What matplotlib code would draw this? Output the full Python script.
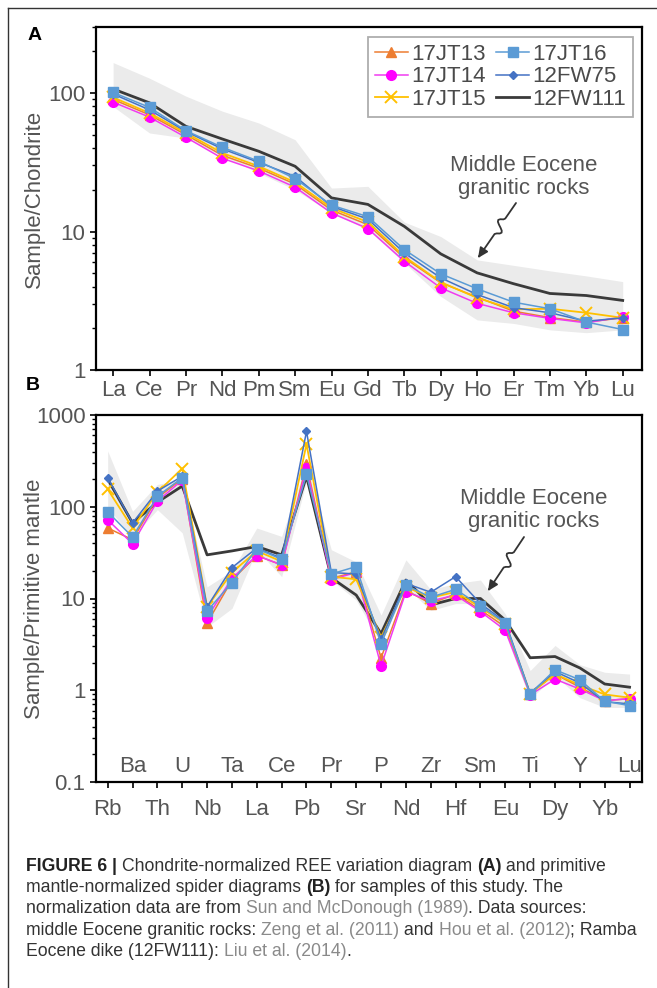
import numpy as np
import matplotlib
matplotlib.use("Agg")
import matplotlib.pyplot as plt
from matplotlib.path import Path
from matplotlib.patches import FancyArrowPatch
from matplotlib.lines import Line2D
import matplotlib.transforms as mtransforms

# ---------------- data ----------------
ree = ["La", "Ce", "Pr", "Nd", "Pm", "Sm", "Eu", "Gd", "Tb", "Dy", "Ho", "Er", "Tm", "Yb", "Lu"]
ree_17JT13 = [90, 69.6, 50, 35.5, 28.7, 22, 14.3, 11.2, 6.45, 4.27, 3.36, 2.66, 2.39, 2.22, 2.38]
ree_17JT14 = [86, 67, 47.9, 33.8, 27.4, 20.9, 13.6, 10.5, 6.1, 3.92, 3.03, 2.59, 2.36, 2.19, 2.42]
ree_17JT15 = [93, 71.7, 51.5, 36.9, 29.6, 22.7, 14.8, 11.7, 6.6, 4.31, 3.32, 2.74, 2.77, 2.59, 2.38]
ree_17JT16 = [101, 78.8, 53.5, 40.6, 32.2, 24.1, 15.5, 12.8, 7.4, 4.95, 3.86, 3.09, 2.77, 2.22, 1.96]
ree_12FW75 = [98.5, 75.6, 52.8, 39.5, 31.6, 25, 15.2, 12.3, 7.0, 4.63, 3.51, 2.82, 2.59, 2.25, 2.38]
ree_12FW111 = [107, 85, 57.5, 46.6, 38, 29.6, 17.5, 15.7, 10.9, 6.9, 5.03, 4.2, 3.57, 3.45, 3.18]
ree_env_upper = [166, 128, 95, 74, 60.8, 46, 20.6, 21.2, 11.7, 9.2, 6.24, 5.7, 5.2, 4.78, 4.35]
ree_env_lower = [80, 51.5, 47.3, 35, 26.5, 20, 13.6, 10.3, 5.94, 3.4, 2.3, 2.17, 1.95, 1.86, 1.95]

spider = ["Rb", "Ba", "Th", "U", "Nb", "Ta", "La", "Ce", "Pb", "Pr", "Sr", "P", "Nd", "Zr", "Hf",
          "Sm", "Eu", "Ti", "Dy", "Y", "Yb", "Lu"]
sp_17JT13 = [58.6, 43.7, 125, 202, 5.4, 15.9, 29.4, 23.2, 290, 16.6, 19.5, 2.25, 12.3, 8.8, 11.2, 7.5, 4.9, 0.92, 1.5, 1.08, 0.77, 0.81]
sp_17JT14 = [72, 39.5, 115, 195, 6.2, 16.6, 29.4, 23.2, 267, 16.1, 19.2, 1.84, 11.8, 9.4, 10.9, 7.2, 4.5, 0.89, 1.32, 1.03, 0.77, 0.81]
sp_17JT15 = [155, 58.7, 144, 261, 8.1, 19.2, 33, 25.3, 481, 17.3, 16.2, 3.8, 13.4, 10.2, 11.8, 8.0, 5.3, 0.92, 1.5, 1.14, 0.9, 0.83]
sp_17JT16 = [88, 46.8, 130, 207, 7.3, 14.9, 34.8, 26.8, 225, 18.5, 22.3, 3.2, 14, 10.3, 12.6, 8.3, 5.4, 0.91, 1.67, 1.3, 0.76, 0.68]
sp_12FW75 = [207, 66.5, 148, 215, 8.1, 21.7, 35.5, 27.5, 662, 19.2, 18.5, 3.6, 14.6, 11.7, 17.3, 8.8, 5.55, 0.93, 1.6, 1.2, 0.75, 0.71]
sp_12FW111 = [200, 66.5, 112, 168, 29.9, 33, 36.9, 29.9, 215, 16.8, 10.9, 4.14, 15.9, 8.5, 10, 10, 5.8, 2.26, 2.33, 1.75, 1.17, 1.08]
sp_env_upper = [406, 89, 175, 200, 13.4, 20, 58.6, 47.5, 300, 34, 25, 6.6, 26.4, 12.5, 14.6, 15.9, 6.8, 1.64, 3.08, 1.9, 1.57, 1.5]
sp_env_lower = [97, 47, 93, 52, 4.9, 7.8, 33.9, 17.3, 190, 15.9, 9.6, 3.2, 13.4, 7.4, 8.8, 8.8, 4.1, 0.8, 1.44, 0.83, 0.65, 0.65]

series_names = ["17JT13", "17JT14", "17JT15", "17JT16", "12FW75", "12FW111"]

# ---------------- style ----------------
W, H = 657, 988
plt.rcParams["font.family"] = ["Liberation Sans", "DejaVu Sans"]
TXT = "#555555"
FS = 16

styles = {
    "17JT13": dict(color="#ed7d31", marker="^", ms=7, lw=1.1, mfc="#ed7d31", mec="#ed7d31"),
    "17JT14": dict(color="#f03cf0", marker="o", ms=7, lw=1.1, mfc="#ff00ff", mec="#ff00ff"),
    "17JT15": dict(color="#ffc000", marker="x", ms=8, lw=1.3, mew=1.4, mfc="#ffc000", mec="#ffc000"),
    "17JT16": dict(color="#5b9bd5", marker="s", ms=6.5, lw=1.1, mfc="#5b9bd5", mec="#5b9bd5"),
    "12FW75": dict(color="#4472c4", marker="D", ms=4.2, lw=1.1, mfc="#4472c4", mec="#4472c4"),
    "12FW111": dict(color="#3a3a3a", marker=None, lw=2.0),
}
draw_order = ["17JT13", "17JT14", "17JT15", "12FW75", "17JT16"]

fig = plt.figure(figsize=(W / 100, H / 100), dpi=100)


def px_axes(left, top, right, bottom):
    return fig.add_axes([left / W, 1 - bottom / H, (right - left) / W, (bottom - top) / H])


def style_axis(ax):
    for s in ax.spines.values():
        s.set_linewidth(1.6)
        s.set_color("black")
    ax.tick_params(axis="y", which="major", direction="out", length=4.5, width=1.2,
                   labelsize=FS, labelcolor=TXT, pad=3)
    ax.tick_params(axis="y", which="minor", direction="out", length=3, width=1.0)
    ax.tick_params(axis="x", which="both", direction="out", length=4.5, width=1.2,
                   labelsize=FS, labelcolor=TXT)
    ax.tick_params(top=False, right=False)


# ---------------- panel A ----------------
axA = px_axes(96, 27, 642, 370)
xa = np.arange(len(ree))
axA.fill_between(xa, ree_env_lower, ree_env_upper, color="#ebebeb", lw=0, zorder=1)
axA.plot(xa, ree_12FW111, zorder=3, **{k: v for k, v in styles["12FW111"].items() if k != "marker"})
ree_data = {"17JT13": ree_17JT13, "17JT14": ree_17JT14, "17JT15": ree_17JT15,
            "17JT16": ree_17JT16, "12FW75": ree_12FW75}
for name in draw_order:
    axA.plot(xa, ree_data[name], zorder=4, **styles[name])
axA.set_yscale("log")
axA.set_ylim(1, 300)
axA.set_xlim(-0.47, len(ree) - 0.47)
axA.set_xticks(xa)
axA.set_xticklabels(ree)
axA.set_yticks([1, 10, 100])
axA.set_yticklabels(["1", "10", "100"])
style_axis(axA)
axA.tick_params(axis="x", pad=3)
axA.set_ylabel("Sample/Chondrite", fontsize=FS, color=TXT)
axA.yaxis.set_label_coords((45 - 96) / 546, 0.5)

handles = []
for name in series_names:
    st = dict(styles[name])
    handles.append(Line2D([], [], label=name, **st))
leg = axA.legend(handles, series_names, ncol=2,
                 loc="upper right", bbox_to_anchor=((633 - 96) / 546, 1 - (37 - 27) / 343),
                 fontsize=FS, frameon=True, fancybox=False, edgecolor="#9a9a9a",
                 handlelength=1.5, handletextpad=0.15, columnspacing=0.45,
                 labelspacing=0.08, borderpad=0.3, borderaxespad=0, markerscale=1.0)
leg.get_frame().set_linewidth(1.3)
for t in leg.get_texts():
    t.set_color("#4a4a4a")

axA.text((524 - 96) / 546, 1 - (177 - 27) / 343, "Middle Eocene\ngranitic rocks",
         transform=axA.transAxes, ha="center", va="center", fontsize=FS,
         color="#555555", linespacing=1.12)

# ---------------- panel B ----------------
axB = px_axes(96, 415, 642, 782)
xb = np.arange(len(spider))
axB.fill_between(xb, sp_env_lower, sp_env_upper, color="#ebebeb", lw=0, zorder=1)
axB.plot(xb, sp_12FW111, zorder=3, **{k: v for k, v in styles["12FW111"].items() if k != "marker"})
sp_data = {"17JT13": sp_17JT13, "17JT14": sp_17JT14, "17JT15": sp_17JT15,
           "17JT16": sp_17JT16, "12FW75": sp_12FW75}
for name in draw_order:
    axB.plot(xb, sp_data[name], zorder=4, **styles[name])
axB.set_yscale("log")
axB.set_ylim(0.1, 1000)
axB.set_xlim(-0.47, len(spider) - 0.5)
axB.set_xticks(xb)
axB.set_xticklabels([s if i % 2 == 0 else "" for i, s in enumerate(spider)])
axB.set_yticks([0.1, 1, 10, 100, 1000])
axB.set_yticklabels(["0.1", "1", "10", "100", "1000"])
style_axis(axB)
axB.tick_params(axis="x", pad=8)
axB.set_ylabel("Sample/Primitive mantle", fontsize=FS, color=TXT)
axB.yaxis.set_label_coords((45 - 96) / 546, 0.5)
trB = mtransforms.blended_transform_factory(axB.transData, axB.transAxes)
for i, s in enumerate(spider):
    if i % 2 == 1:
        axB.text(i, (782 - 767) / 367, s, transform=trB, ha="center", va="center",
                 fontsize=FS, color=TXT)

axB.text((534 - 96) / 546, 1 - (510 - 415) / 367, "Middle Eocene\ngranitic rocks",
         transform=axB.transAxes, ha="center", va="center", fontsize=FS,
         color="#555555", linespacing=1.12)


# ---------------- squiggle arrows ----------------
def fpt(x, y):
    return (x / W, 1 - y / H)


def squiggle(points):
    verts = [fpt(*p) for p in points]
    codes = [Path.MOVETO] + [Path.LINETO] * (len(verts) - 1)
    arr = FancyArrowPatch(path=Path(verts, codes), arrowstyle="-|>,head_length=6,head_width=2.8",
                          color="#333333", lw=1.3, transform=fig.transFigure, mutation_scale=1)
    fig.patches.append(arr)


t = np.linspace(0, 1, 40)
def wiggle(x0, y0, x1, y1, amp):
    xs, ys = [], []
    dx, dy = x1 - x0, y1 - y0
    L = np.hypot(dx, dy)
    nx, ny = -dy / L, dx / L
    for tt in t:
        off = 0.0
        if 0.3 < tt < 0.55:
            off = amp * np.sin((tt - 0.3) / 0.25 * 2 * np.pi)
        xs.append(x0 + dx * tt + nx * off)
        ys.append(y0 + dy * tt + ny * off)
    return list(zip(xs, ys))


squiggle(wiggle(516, 203, 478, 258, 5))
squiggle(wiggle(524, 537, 488, 591, 5))

# ---------------- panel letters & frame ----------------
fig.text(35 / W, 1 - 36 / H, "A", fontsize=14, fontweight="bold", ha="center", va="center", color="black")
fig.text(33 / W, 1 - 385 / H, "B", fontsize=14, fontweight="bold", ha="center", va="center", color="black")
fig.add_artist(Line2D([7.5 / W, 7.5 / W], [0, 1 - 8.5 / H], color="#333333", lw=1.0, transform=fig.transFigure))
fig.add_artist(Line2D([7.5 / W, 1], [1 - 8.5 / H, 1 - 8.5 / H], color="#333333", lw=1.0, transform=fig.transFigure))

# ---------------- caption ----------------
NORM, BOLD, REF = "#333333", "#222222", "#8a8a8a"
caption = [
    [("FIGURE 6 | ", "bold", BOLD), ("Chondrite-normalized REE variation diagram ", "normal", NORM),
     ("(A)", "bold", BOLD), (" and primitive", "normal", NORM)],
    [("mantle-normalized spider diagrams ", "normal", NORM), ("(B)", "bold", BOLD),
     (" for samples of this study. The", "normal", NORM)],
    [("normalization data are from ", "normal", NORM), ("Sun and McDonough (1989)", "normal", REF),
     (". Data sources:", "normal", NORM)],
    [("middle Eocene granitic rocks: ", "normal", NORM), ("Zeng et al. (2011)", "normal", REF),
     (" and ", "normal", NORM), ("Hou et al. (2012)", "normal", REF), ("; Ramba", "normal", NORM)],
    [("Eocene dike (12FW111): ", "normal", NORM), ("Liu et al. (2014)", "normal", REF), (".", "normal", NORM)],
]
baselines = [870.7, 891.9, 913.2, 934.6, 956]
renderer = fig.canvas.get_renderer()


def seg_width(txt, weight, size):
    a = fig.text(0, 0, txt + "|", fontsize=size, fontweight=weight)
    b = fig.text(0, 0, "|", fontsize=size, fontweight=weight)
    w = a.get_window_extent(renderer).width - b.get_window_extent(renderer).width
    a.remove(); b.remove()
    return w


base_size = 11
w4 = sum(seg_width(s, wt, base_size) for s, wt, c in caption[3])
cap_size = base_size * (610 / w4)
for line, yb in zip(caption, baselines):
    x = 26.0
    for s, wt, c in line:
        fig.text(x / W, 1 - yb / H, s, fontsize=cap_size, fontweight=wt, color=c,
                 ha="left", va="baseline")
        x += seg_width(s, wt, cap_size)

fig.savefig("out.png", dpi=100)
